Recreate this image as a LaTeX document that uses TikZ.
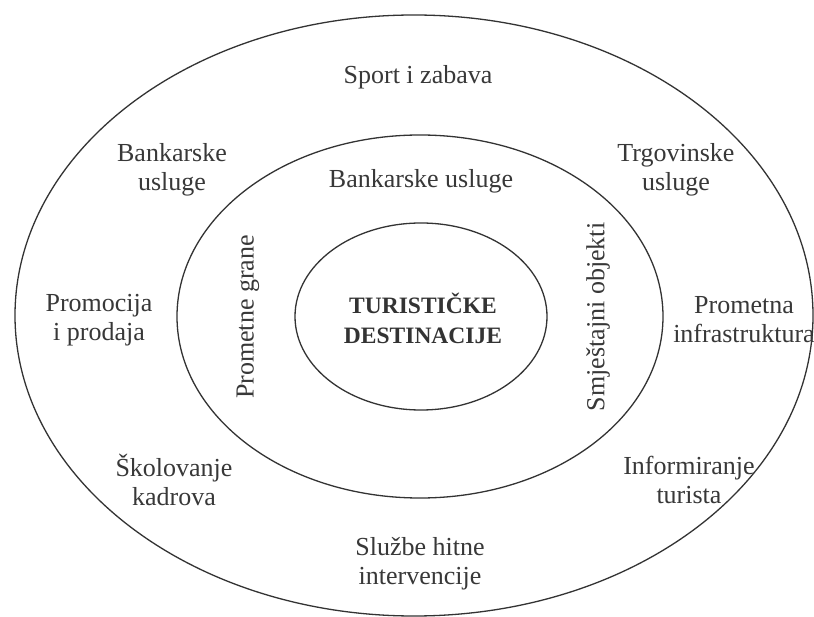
\documentclass[tikz,border=0pt]{standalone}
\usepackage{fontspec}
\setmainfont{Liberation Serif}
\usetikzlibrary{shapes.geometric}
\begin{document}
\begin{tikzpicture}[x=1pt,y=-1pt,
  ring/.style={draw=black!80, line width=1.3pt, ellipse, inner sep=0pt, outer sep=0pt},
  lbl/.style={text=black!78, align=center, inner sep=0pt, font=\fontsize{26}{29}\selectfont},
  core/.style={text=black!80, align=center, inner sep=0pt, font=\fontsize{23.5}{30}\selectfont\bfseries}]
\useasboundingbox[fill=white] (0,0) rectangle (814,617);
% rings
\node[ring, minimum width=798pt, minimum height=601pt] (outer) at (414,315.5) {};
\node[ring, minimum width=486pt, minimum height=363pt] (middle) at (420,316.5) {};
\node[ring, minimum width=252pt, minimum height=187pt] (inner) at (421,316.5) {};
% centre
\node[core] (dest) at (423,318) {TURISTIČKE\\DESTINACIJE};
% middle ring labels
\node[lbl] (mbank) at (421,181) {Bankarske usluge};
\node[lbl, rotate=90] (grane) at (248,317) {Prometne grane};
\node[lbl, rotate=90] (smjest) at (598,317) {Smještajni objekti};
% outer ring labels
\node[lbl] (sport) at (418,77) {Sport i zabava};
\node[lbl] (obank) at (172,170) {Bankarske\\usluge};
\node[lbl] (trgov) at (676,170) {Trgovinske\\usluge};
\node[lbl] (promo) at (99,320) {Promocija\\i prodaja};
\node[lbl] (infra) at (744,320) {Prometna\\infrastruktura};
\node[lbl] (skol) at (174,480) {Školovanje\\kadrova};
\node[lbl] (inform) at (689,480) {Informiranje\\turista};
\node[lbl] (sluzbe) at (420,564) {Službe hitne\\intervencije};
\end{tikzpicture}
\end{document}
